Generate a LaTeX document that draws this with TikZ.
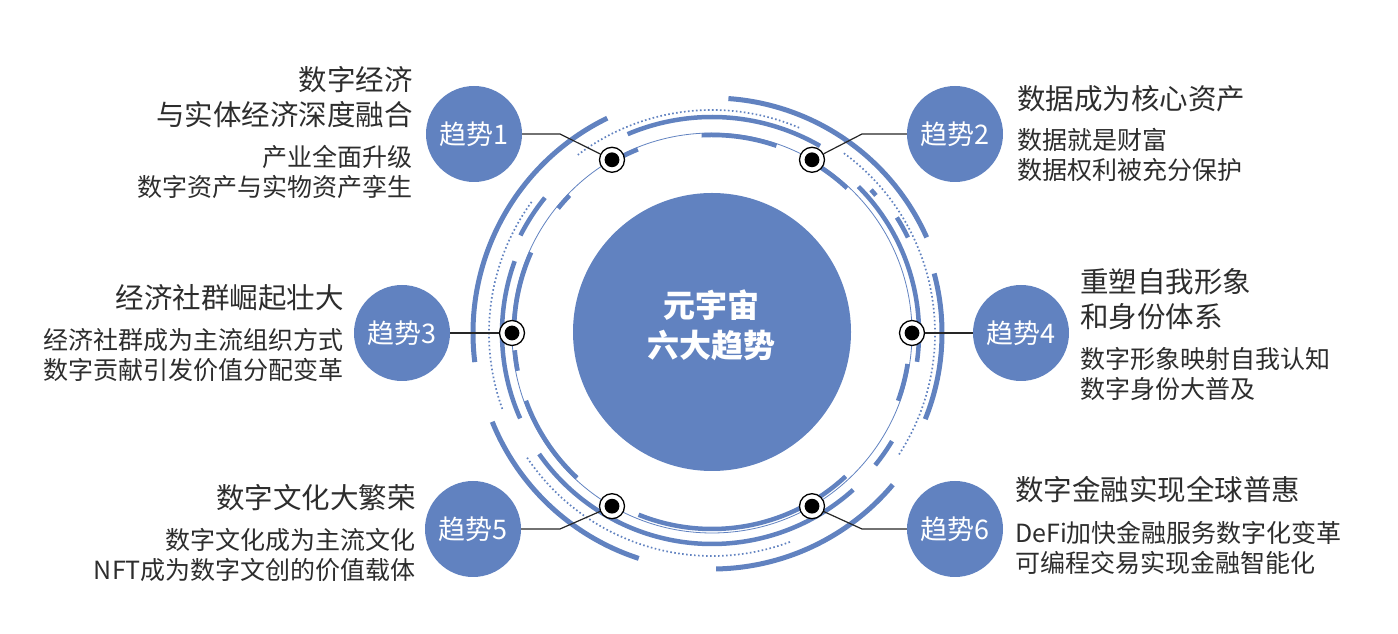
\documentclass[tikz,border=0pt]{standalone}
\usepackage{fontspec}
\setmainfont{Noto Sans CJK SC}
\usetikzlibrary{positioning}

\definecolor{trendblue}{RGB}{97,130,192}
\definecolor{inkgray}{RGB}{45,45,45}

\tikzset{
  trend/.style={circle, fill=trendblue, minimum size=96pt, inner sep=0pt, text=white, font=\fontsize{27}{30}\selectfont},
  hub/.style={circle, draw=black, line width=1.3pt, fill=white, minimum size=25pt, inner sep=0pt,
    path picture={\fill[black] (path picture bounding box.center) circle (7.4pt);}},
  link/.style={draw=black!85, line width=1.2pt},
  headline/.style={text=inkgray, font=\fontsize{28.5}{35}\selectfont, inner sep=0pt},
  subline/.style={text=inkgray, font=\fontsize{25}{30}\selectfont, inner sep=0pt},
  band/.style={trendblue, line width=5pt},
  midband/.style={trendblue, line width=4.5pt},
  hairline/.style={trendblue, line width=0.8pt},
  dotring/.style={trendblue, line width=1.7pt, dash pattern=on 1.6pt off 2.4pt},
}

\begin{document}
\begin{tikzpicture}[x=1pt, y=1pt]
    \useasboundingbox (0,0) rectangle (1398,634);
    \coordinate (C) at (712,301);
    %\draw[red] (C) circle (200);
    % outer band
    \draw[band] ([shift={(24:235)}]C) arc[start angle=24, end angle=86, radius=235];
    \draw[band] ([shift={(-22:230)}]C) arc[start angle=-22, end angle=15, radius=230];
    \draw[band] ([shift={(-89:236)}]C) arc[start angle=-89, end angle=-40, radius=236];
    \draw[band] ([shift={(202:237)}]C) arc[start angle=202, end angle=252, radius=237];
    \draw[band] ([shift={(116:239)}]C) arc[start angle=116, end angle=187, radius=239];
    % dotted ring
    \draw[dotring] ([shift={(-33:223)}]C) arc[start angle=-33, end angle=54, radius=223];
    \draw[dotring] ([shift={(67:223)}]C) arc[start angle=67, end angle=127, radius=223];
    \draw[dotring] ([shift={(144:223)}]C) arc[start angle=144, end angle=200, radius=223];
    \draw[dotring] ([shift={(214:223)}]C) arc[start angle=214, end angle=291, radius=223];
    % middle band
    \draw[midband] ([shift={(60:216)}]C) arc[start angle=60, end angle=113, radius=216];
    \draw[midband] ([shift={(141:215)}]C) arc[start angle=141, end angle=153, radius=215];
    \draw[midband] ([shift={(160:210)}]C) arc[start angle=160, end angle=204, radius=210];
    \draw[midband] ([shift={(215:211)}]C) arc[start angle=215, end angle=312, radius=211];
    \draw[midband] ([shift={(-39:210)}]C) arc[start angle=-39, end angle=-31, radius=210];
    \draw[midband] ([shift={(-8:207)}]C) arc[start angle=-8, end angle=45, radius=207];
    \draw[midband] ([shift={(26:218)}]C) arc[start angle=26, end angle=32, radius=218];
    \draw[midband] ([shift={(40:214)}]C) arc[start angle=40, end angle=42, radius=214];
    % inner band
    \draw[midband] ([shift={(47:198)}]C) arc[start angle=47, end angle=57, radius=198];
    \draw[midband] ([shift={(71:198)}]C) arc[start angle=71, end angle=93, radius=198];
    \draw[midband] ([shift={(112:198)}]C) arc[start angle=112, end angle=118, radius=198];
    \draw[midband] ([shift={(136:198)}]C) arc[start angle=136, end angle=141, radius=198];
    \draw[midband] ([shift={(156:198)}]C) arc[start angle=156, end angle=178, radius=198];
    \draw[midband] ([shift={(185:198)}]C) arc[start angle=185, end angle=191, radius=198];
    \draw[midband] ([shift={(200:198)}]C) arc[start angle=200, end angle=227, radius=198];
    \draw[midband] ([shift={(248:196)}]C) arc[start angle=248, end angle=313, radius=196];
    \draw[midband] ([shift={(-20:198)}]C) arc[start angle=-20, end angle=-9, radius=198];
    \draw[hairline] (C) circle (200);

    % core
    \node[circle, fill=trendblue, minimum size=278pt, inner sep=0pt] (core) at (712,302) {};
    \node[text=white, font=\fontsize{32}{40}\selectfont\bfseries, align=center, inner sep=0pt] (corelabel) at (711,309) {元宇宙\\六大趋势};

    % hubs on the ring
    \node[hub] (h1) at (612,474.2) {};
    \node[hub] (h2) at (812,474.2) {};
    \node[hub] (h3) at (512,301) {};
    \node[hub] (h4) at (912,301) {};
    \node[hub] (h5) at (612,127.8) {};
    \node[hub] (h6) at (812,127.8) {};

    % trends
    \node[trend] (t1) at (474,500) {趋势1};
    \node[trend] (t2) at (955,500) {趋势2};
    \node[trend] (t3) at (402,301) {趋势3};
    \node[trend] (t4) at (1021,301) {趋势4};
    \node[trend] (t5) at (473,105) {趋势5};
    \node[trend] (t6) at (955,105) {趋势6};

    \draw[link] (t1) -- (560,500) -- (h1);
    \draw[link] (h2) -- (862,500) -- (t2);
    \draw[link] (t3) -- (h3);
    \draw[link] (h4) -- (t4);
    \draw[link] (t5) -- (560,105) -- (h5);
    \draw[link] (h6) -- (862,105) -- (t6);

    % texts
    \node[headline, anchor=east, align=right] (t1h) at (413,536.5) {数字经济\\与实体经济深度融合};
    \node[subline, anchor=east, align=right] (t1s) at (413,462) {产业全面升级\\数字资产与实物资产孪生};
    \node[headline, anchor=west, align=left] (t2h) at (1017,535.5) {数据成为核心资产};
    \node[subline, anchor=west, align=left] (t2s) at (1017,479) {数据就是财富\\数据权利被充分保护};
    \node[headline, anchor=east, align=right] (t3h) at (344,336.5) {经济社群崛起壮大};
    \node[subline, anchor=east, align=right] (t3s) at (344,279) {经济社群成为主流组织方式\\数字贡献引发价值分配变革};
    \node[headline, anchor=west, align=left] (t4h) at (1080,335) {重塑自我形象\\和身份体系};
    \node[subline, anchor=west, align=left] (t4s) at (1080,260) {数字形象映射自我认知\\数字身份大普及};
    \node[headline, anchor=east, align=right] (t5h) at (416,136) {数字文化大繁荣};
    \node[subline, anchor=east, align=right] (t5s) at (416,79) {数字文化成为主流文化\\NFT成为数字文创的价值载体};
    \node[headline, anchor=west, align=left] (t6h) at (1015,144) {数字金融实现全球普惠};
    \node[subline, anchor=west, align=left] (t6s) at (1015,86) {DeFi加快金融服务数字化变革\\可编程交易实现金融智能化};
\end{tikzpicture}
\end{document}
